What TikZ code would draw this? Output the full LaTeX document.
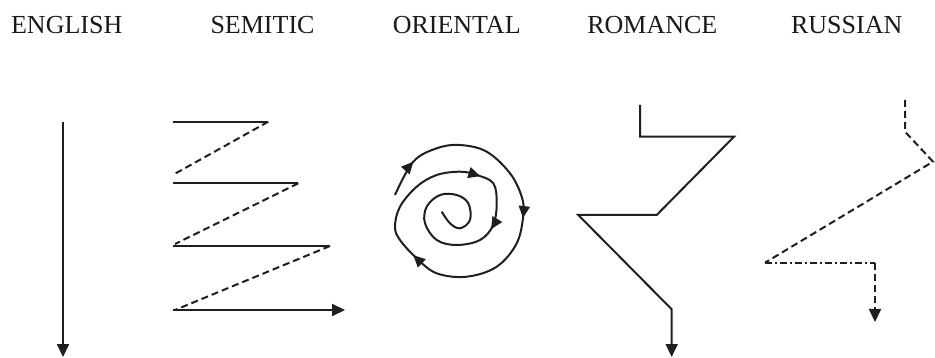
\documentclass[tikz,border=0pt]{standalone}
\usepackage{fontspec}
\setmainfont{Liberation Serif}
\usetikzlibrary{arrows.meta,decorations.markings}
\begin{document}
\begin{tikzpicture}[x=1pt,y=-1pt,
  ln/.style={line width=2pt,draw=black!88,line cap=butt,line join=miter},
  dsh/.style={ln,dash pattern=on 7pt off 4pt},
  dashdot/.style={ln,dash pattern=on 7pt off 3pt on 2pt off 3pt},
  tip/.style={-{Triangle[length=13pt,width=12pt]}},
  lbl/.style={anchor=base,inner sep=0pt,font=\fontsize{26}{30}\selectfont,text=black!90}]
\useasboundingbox (0,0) rectangle (935,358);
% labels
\node[lbl] (english) at (66.7,33.5) {ENGLISH};
\node[lbl] (semitic) at (262.5,33.5) {SEMITIC};
\node[lbl] (oriental) at (456.7,33.5) {ORIENTAL};
\node[lbl] (romance) at (652.3,33.5) {ROMANCE};
\node[lbl] (russian) at (846.7,33.5) {RUSSIAN};
% English
\draw[ln,tip] (63,122) -- (63,357);
% Semitic
\draw[ln] (172.7,121.7) -- (268.3,121.7);
\draw[dsh] (268.3,121.7) -- (172.7,175);
\draw[ln] (172.7,183.3) -- (298.3,183.3);
\draw[dsh] (298.3,183.3) -- (175,244);
\draw[ln] (172.7,246) -- (330,246);
\draw[dsh] (330,246) -- (175,310);
\draw[ln,tip] (172.7,310) -- (345,310);
% Oriental spiral
\draw[ln,postaction={decorate},decoration={markings,
  mark=at position 0.050 with {\arrow{Triangle[length=12pt,width=11pt]}},
  mark=at position 0.258 with {\arrow{Triangle[length=12pt,width=11pt]}},
  mark=at position 0.454 with {\arrow{Triangle[length=12pt,width=11pt]}},
  mark=at position 0.650 with {\arrow{Triangle[length=12pt,width=11pt]}},
  mark=at position 0.732 with {\arrow{Triangle[length=12pt,width=11pt]}}}]
  plot[smooth,tension=0.6] coordinates {
  (395,195) (413.3,161.7) (436.7,148.3) (460,145) (486.7,151.7) (510,173.3)
  (521.7,196.7) (523.3,215) (516.7,243.3) (496.7,266.7) (466.7,276.7)
  (436.7,273.3) (416.7,258.3) (400,240) (395,226.7) (400,206.7) (416.7,186.7)
  (436.7,175) (460,171.7) (476.7,175) (493.3,183.3) (496.7,203.3) (493.3,225)
  (480,240) (456.7,245) (436.7,240) (425,223.3) (426.7,206.7) (440,195)
  (456.7,195) (468.3,203.3) (470,220) (460,228.3) (450,223.3) (441.7,211.7)};
% Romance
\draw[ln,tip] (640,105) -- (640,136.7) -- (734,136.7) -- (656.7,215)
  -- (578.3,215) -- (671.7,309.3) -- (671.7,357);
% Russian
\draw[dsh] (905,100) -- (905,131.7) -- (933,161.7) -- (765,262.7);
\draw[dashdot] (765,262.7) -- (875,262.7);
\draw[dsh,tip] (875,262.7) -- (875,322);
\end{tikzpicture}
\end{document}
